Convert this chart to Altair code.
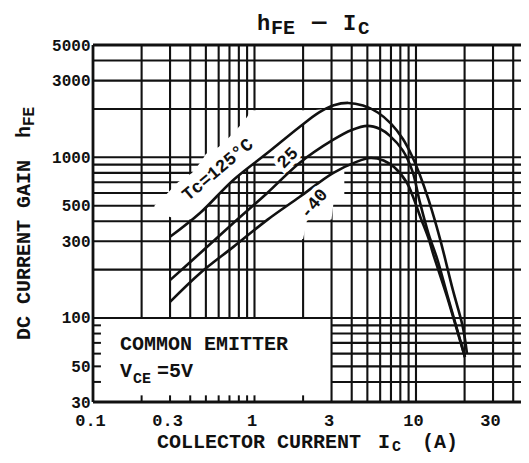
import altair as alt
import pandas as pd

# ---------------- data ----------------
IC_125 = [0.3, 0.46, 0.74, 1.2, 1.9, 2.5, 3.1, 3.8, 4.7, 5.8, 7.0, 8.3, 9.4, 10.5, 12.0, 14.1, 16.9, 19.5, 20.7]
HFE_125 = [320, 450, 723, 1063, 1545, 1900, 2110, 2180, 2100, 1900, 1620, 1300, 1030, 790, 540, 310, 150, 88, 60]

IC_25 = [0.3, 0.46, 0.74, 1.2, 1.9, 3.06, 4.0, 5.0, 6.0, 6.9, 8.3, 9.5, 10.6, 12.0, 13.5, 15.6, 18.7, 20.1]
HFE_25 = [172, 253, 390, 600, 923, 1283, 1480, 1570, 1500, 1360, 1100, 820, 520, 330, 235, 140, 74, 57]

IC_M40 = [0.3, 0.46, 0.74, 1.2, 1.9, 3.06, 4.2, 5.2, 6.3, 7.4, 8.8, 9.6, 10.6, 12.0, 12.7, 15.6, 18.7, 20.1]
HFE_M40 = [126, 190, 277, 408, 566, 798, 930, 990, 955, 860, 692, 566, 430, 310, 255, 135, 73, 57]

CURVE_LABELS = ["Tc=125°C", "25", "-40"]
LABEL_IC = [0.594, 1.61, 2.34]
LABEL_HFE = [834, 990, 512]
LABEL_ANGLE = [320, 315, 310]

X_DOMAIN = [0.1, 44.7]
Y_DOMAIN = [30, 5000]
X_TICKS = [0.1, 0.3, 1, 3, 10, 30]
Y_TICKS = [30, 50, 100, 300, 500, 1000, 3000, 5000]

GRID_X = [0.2, 0.3, 0.4, 0.5, 0.6, 0.7, 0.8, 0.9, 1, 2, 3, 4, 5, 6, 7, 8, 9, 10, 20, 30, 40]
GRID_Y = [40, 50, 60, 70, 80, 90, 100, 200, 300, 400, 500, 600, 700, 800, 900, 1000, 2000, 3000, 4000]
BOX_X = 3      # legend box right edge (IC)
BOX_Y = 100    # legend box top edge (hFE)
BOX_TICKS_X = [0.2, 0.3, 0.4, 0.5, 0.6, 0.7, 0.8, 0.9, 1, 2]
BOX_TICKS_Y = [40, 50, 60, 70, 80, 90]
TICK_X_END = 0.112
TICK_Y_END = 33

# white (blank) regions of the printed grid paper
MASK_A_X = [0.24, 0.29, 0.336, 0.41, 0.47, 0.5, 0.6, 0.7, 0.8, 0.9, 0.95, 1.2, 1.5, 1.9, 2.3, 2.65]
MASK_A_LO = [490, 430, 410, 410, 460, 489, 586, 684, 769, 846, 880, 1063, 1276, 1545, 1806, 1990]
MASK_A_HI = [500, 600, 700, 800, 950, 1050, 1160, 1338, 1544, 1780, 1960, 1960, 1960, 1960, 1960, 1990]
MASK_B_X = [1.03, 1.5, 2.0, 2.12, 2.6, 3.0, 3.1, 3.6]
MASK_B_LO = [310, 310, 310, 410, 410, 410, 540, 560]
MASK_B_HI = [360, 479, 590, 612, 710, 787, 800, 855]

FONT = "Liberation Mono"
INK = "#111111"

xs = alt.Scale(type="log", domain=X_DOMAIN, nice=False)
ys = alt.Scale(type="log", domain=Y_DOMAIN, nice=False)
AX_X = alt.Axis(values=X_TICKS, labelExpr="'' + datum.value", grid=False, ticks=False, domain=False,
                labelFont=FONT, labelFontWeight="bold", labelFontSize=17, labelColor=INK,
                labelPadding=10, labelOffset=-3, labelFlush=False, labelOverlap=False,
                labelBound=False, title=None)
AX_Y = alt.Axis(values=Y_TICKS, labelExpr="'' + datum.value", grid=False, ticks=False, domain=False,
                labelFont=FONT, labelFontWeight="bold", labelFontSize=16, labelColor=INK,
                labelPadding=3, labelFlush=False, labelOverlap=False, labelBound=False, title=None)

# ---------------- tables ----------------
seg = []
for gx in GRID_X:
    seg.append({"x": gx, "x2": gx, "y": (Y_DOMAIN[0] if gx >= BOX_X else BOX_Y), "y2": Y_DOMAIN[1]})
for gy in GRID_Y:
    seg.append({"x": (BOX_X if gy < BOX_Y else X_DOMAIN[0]), "x2": X_DOMAIN[1], "y": gy, "y2": gy})
grid_df = pd.DataFrame(seg)

frame_df = pd.DataFrame([
    {"x": X_DOMAIN[0], "x2": X_DOMAIN[0], "y": Y_DOMAIN[0], "y2": Y_DOMAIN[1]},
    {"x": X_DOMAIN[0], "x2": X_DOMAIN[1], "y": Y_DOMAIN[1], "y2": Y_DOMAIN[1]},
    {"x": X_DOMAIN[0], "x2": X_DOMAIN[1], "y": Y_DOMAIN[0], "y2": Y_DOMAIN[0]},
])

ticks = []
for tx in BOX_TICKS_X:
    ticks.append({"x": tx, "x2": tx, "y": Y_DOMAIN[0], "y2": TICK_Y_END})
for ty in BOX_TICKS_Y:
    ticks.append({"x": X_DOMAIN[0], "x2": TICK_X_END, "y": ty, "y2": ty})
ticks_df = pd.DataFrame(ticks)

mask_a = pd.DataFrame({"x": MASK_A_X, "lo": MASK_A_LO, "hi": MASK_A_HI})
mask_b = pd.DataFrame({"x": MASK_B_X, "lo": MASK_B_LO, "hi": MASK_B_HI})

curves = pd.concat([
    pd.DataFrame({"ic": IC_125, "hfe": HFE_125, "tc": "125"}),
    pd.DataFrame({"ic": IC_25, "hfe": HFE_25, "tc": "25"}),
    pd.DataFrame({"ic": IC_M40, "hfe": HFE_M40, "tc": "-40"}),
])

ONE = pd.DataFrame({"a": [0]})

# ---------------- layers ----------------
def rules(df, width):
    return alt.Chart(df).mark_rule(color=INK, strokeWidth=width).encode(
        x=alt.X("x:Q", scale=xs, axis=AX_X), x2="x2:Q",
        y=alt.Y("y:Q", scale=ys, axis=AX_Y), y2="y2:Q",
    )

def mask(df):
    return alt.Chart(df).mark_area(color="white", opacity=1).encode(
        x=alt.X("x:Q", scale=xs, axis=AX_X),
        y=alt.Y("hi:Q", scale=ys, axis=AX_Y),
        y2="lo:Q",
    )

lines = alt.Chart(curves).mark_line(color=INK, strokeWidth=2.6, interpolate="catmull-rom").encode(
    x=alt.X("ic:Q", scale=xs, axis=AX_X),
    y=alt.Y("hfe:Q", scale=ys, axis=AX_Y),
    detail="tc:N",
)

label_layers = []
for lab, lx, ly, ang in zip(CURVE_LABELS, LABEL_IC, LABEL_HFE, LABEL_ANGLE):
    d = pd.DataFrame({"ic": [lx], "hfe": [ly], "t": [lab]})
    enc = dict(x=alt.X("ic:Q", scale=xs, axis=AX_X), y=alt.Y("hfe:Q", scale=ys, axis=AX_Y), text="t:N")
    label_layers.append(alt.Chart(d).mark_text(
        font=FONT, fontWeight="bold", fontSize=18, angle=ang, align="center", baseline="middle",
        color="white", stroke="white", strokeWidth=8).encode(**enc))
    label_layers.append(alt.Chart(d).mark_text(
        font=FONT, fontWeight="bold", fontSize=18, angle=ang, align="center", baseline="middle",
        color=INK).encode(**enc))

def txt(s, px, py, size, angle=0, baseline="alphabetic"):
    return alt.Chart(ONE).mark_text(
        align="left", baseline=baseline, font=FONT, fontWeight="bold", fontSize=size,
        color=INK, angle=angle).encode(x=alt.value(px), y=alt.value(py), text=alt.value(s))

texts = [
    # chart title  hFE - IC
    txt("h", 164, -15, 22), txt("FE", 178, -11, 20), txt("—", 219, -16, 24),
    txt("I", 250, -15, 22), txt("C", 265, -11, 19),
    # x title
    txt("COLLECTOR CURRENT", 64, 403, 20), txt("I", 285, 403, 20), txt("C", 299, 406, 15),
    txt("(A)", 329, 403, 20),
    # y title (rotated)
    txt("DC CURRENT GAIN", -69, 295, 20, angle=270, baseline="middle"),
    txt("h", -69, 93, 20, angle=270, baseline="middle"),
    txt("FE", -64, 81, 16, angle=270, baseline="middle"),
    # legend box
    txt("COMMON EMITTER", 27, 305, 20),
    txt("V", 27, 332, 20), txt("CE", 40, 338, 15), txt("=5V", 64, 332, 20),
]

chart = alt.layer(
    rules(grid_df, 2.1), mask(mask_a), mask(mask_b), rules(ticks_df, 2.0), lines,
    *label_layers, rules(frame_df, 2.8), *texts,
).properties(
    width=428, height=357,
    padding={"left": 85, "top": 37, "right": 0, "bottom": 53},
    autosize=alt.AutoSizeParams(type="none"),
).configure_view(strokeWidth=0).configure(background="white")

chart.save("out.html", embed_options={"renderer": "svg", "actions": False})
